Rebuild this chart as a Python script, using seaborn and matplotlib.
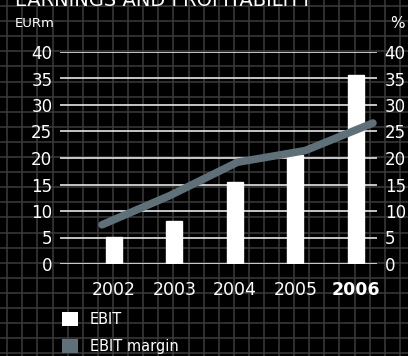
import numpy as np
import matplotlib
matplotlib.use("Agg")
import matplotlib.pyplot as plt
from matplotlib.patches import Patch
import seaborn as sns
import pandas as pd

# Data
years = ["2002", "2003", "2004", "2005", "2006"]
ebit = [5.1, 8.1, 15.5, 20.6, 35.7]          # EURm
ebit_margin = [7.4, 12.9, 19.2, 21.4, 26.6]   # %
y_ticks = [0, 5, 10, 15, 20, 25, 30, 35, 40]

sns.set_theme(style="dark")
plt.rcParams["font.family"] = ["DejaVu Sans"]

W, H = 408, 356
fig = plt.figure(figsize=(W / 100, H / 100), dpi=100, facecolor="black")

# Squared paper background
bg = fig.add_axes([0, 0, 1, 1], zorder=-5)
bg.set_facecolor("black")
bg.set_xlim(0, W)
bg.set_ylim(H, 0)
bg.set_xticks(np.arange(7.3, W, 15.1))
bg.set_yticks(np.arange(6.0, H, 15.1))
bg.grid(True, color="#3c3c3c", linewidth=1.1)
bg.tick_params(length=0, labelbottom=False, labelleft=False)
for s in bg.spines.values():
    s.set_visible(False)

# Main axes
x0, x1, ybot, ytop = 60, 377, 264, 52
ax = fig.add_axes([x0 / W, 1 - ybot / H, (x1 - x0) / W, (ybot - ytop) / H])
ax.set_facecolor("none")
df = pd.DataFrame({"year": years, "EBIT": ebit})
sns.barplot(data=df, x="year", y="EBIT", order=years, color="white",
            saturation=1, width=0.265, ax=ax, zorder=3)
ax.set_xlim(-0.89, 4.35)
ax.set_ylim(0, 40)
ax.set_yticks(y_ticks)
ax.set_yticklabels([str(v) for v in y_ticks])
ax.yaxis.grid(True, color="#e6e6e6", linewidth=1.2)
ax.xaxis.grid(False)
ax.set_axisbelow(True)
ax.tick_params(axis="y", length=0, left=False, right=False, labelleft=True,
               labelright=True, labelsize=12, colors="white", pad=5.5)
ax.tick_params(axis="x", length=0, bottom=False, labelsize=12.5,
               colors="white", pad=12)
for lbl in ax.get_xticklabels():
    lbl.set_color("white")
    if lbl.get_text() == "2006":
        lbl.set_fontweight("bold")
ax.set_xlabel("")
ax.set_ylabel("")
for s in ax.spines.values():
    s.set_visible(False)

# EBIT margin line on its own horizontal scale
axl = ax.twiny()
axl.set_facecolor("none")
mdf = pd.DataFrame({"pos": np.arange(len(years)), "margin": ebit_margin})
sns.lineplot(data=mdf, x="pos", y="margin", color="#5e7179", linewidth=5.5,
             ax=axl, zorder=5)
axl.set_xlim(-0.62, 4.06)
axl.set_ylim(0, 40)
axl.set_xticks([])
axl.set_xlabel("")
axl.set_ylabel("")
for s in axl.spines.values():
    s.set_visible(False)

# Titles and units
fig.text(15 / W, 1 - 6 / H, "EARNINGS AND PROFITABILITY", color="white",
         fontsize=14, va="baseline", ha="left")
fig.text(15 / W, 1 - 27 / H, "EURm", color="white", fontsize=9.5,
         va="baseline", ha="left")
fig.text(390 / W, 1 - 28 / H, "%", color="white", fontsize=11,
         va="baseline", ha="left")

# Legend
handles = [Patch(facecolor="white", edgecolor="none", label="EBIT"),
           Patch(facecolor="#5e7179", edgecolor="none", label="EBIT margin")]
leg = fig.legend(handles=handles, loc="upper left",
                 bbox_to_anchor=(52 / W, 1 - 302 / H), frameon=False,
                 fontsize=10.5, handlelength=1.1, handleheight=1.1,
                 handletextpad=0.8, labelspacing=0.8, borderpad=0.2)
for t in leg.get_texts():
    t.set_color("white")

fig.savefig("out.png", dpi=100, facecolor="black")
